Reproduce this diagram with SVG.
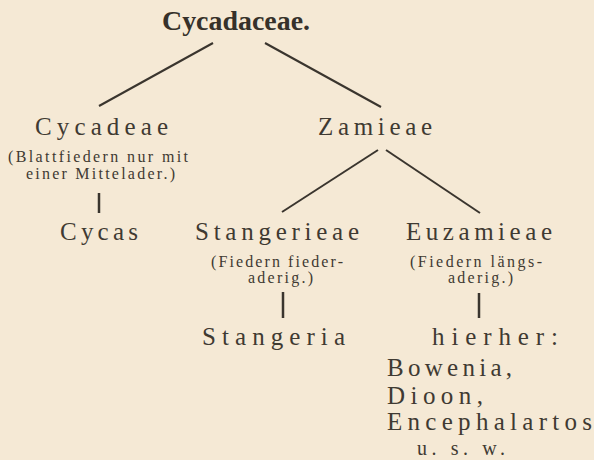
<svg xmlns="http://www.w3.org/2000/svg" width="594" height="460" viewBox="0 0 594 460">
<style>
.bg{fill:#f5e9d5}
.t{font-family:"Liberation Serif","Times New Roman",serif;fill:#3f3a32}
.title{font-size:27px;font-weight:bold;fill:#36312a}
.big{font-size:25px}
.small{font-size:16px}
.c line{stroke:#3a352e;stroke-width:2;stroke-linecap:butt}
</style>
<rect class="bg" x="0" y="0" width="594" height="460"/>
<g id="connectors" class="c">
<line x1="213" y1="43" x2="99" y2="106"/>
<line x1="265" y1="43" x2="381" y2="107"/>
<line x1="99" y1="193" x2="99" y2="213" style="stroke-width:2.5"/>
<line x1="378" y1="150" x2="282" y2="212"/>
<line x1="386" y1="150" x2="480" y2="213"/>
<line x1="283" y1="292" x2="283" y2="318" style="stroke-width:2.5"/>
<line x1="479" y1="293" x2="479" y2="318" style="stroke-width:2.5"/>
</g>
<g id="cycadaceae">
<text class="t title" x="162" y="30" textLength="148" lengthAdjust="spacingAndGlyphs">Cycadaceae.</text>
</g>
<g id="cycadeae">
<text class="t big" x="35" y="135" textLength="133" lengthAdjust="spacing">Cycadeae</text>
<text class="t small" x="8" y="162" textLength="180" lengthAdjust="spacing">(Blattfiedern nur mit</text>
<text class="t small" x="26" y="179" textLength="149" lengthAdjust="spacing">einer Mittelader.)</text>
</g>
<g id="zamieae">
<text class="t big" x="318" y="135" textLength="114" lengthAdjust="spacing">Zamieae</text>
</g>
<g id="cycas">
<text class="t big" x="60" y="240" textLength="78" lengthAdjust="spacing">Cycas</text>
</g>
<g id="stangerieae">
<text class="t big" x="195" y="240" textLength="164" lengthAdjust="spacing">Stangerieae</text>
<text class="t small" x="211" y="267" textLength="132" lengthAdjust="spacing">(Fiedern fieder-</text>
<text class="t small" x="248" y="283" textLength="65" lengthAdjust="spacing">aderig.)</text>
</g>
<g id="euzamieae">
<text class="t big" x="406" y="240" textLength="146" lengthAdjust="spacing">Euzamieae</text>
<text class="t small" x="410" y="267" textLength="132" lengthAdjust="spacing">(Fiedern längs-</text>
<text class="t small" x="448" y="283" textLength="65" lengthAdjust="spacing">aderig.)</text>
</g>
<g id="stangeria">
<text class="t big" x="202" y="345" textLength="143" lengthAdjust="spacing">Stangeria</text>
</g>
<g id="hierher">
<text class="t big" x="432" y="345" textLength="126" lengthAdjust="spacing">hierher:</text>
<text class="t big" x="387" y="376" textLength="125" lengthAdjust="spacing">Bowenia,</text>
<text class="t big" x="387" y="404" textLength="96" lengthAdjust="spacing">Dioon,</text>
<text class="t big" x="387" y="430" textLength="205" lengthAdjust="spacing">Encephalartos</text>
<text class="t big" x="417" y="455" style="font-size:20px" textLength="88" lengthAdjust="spacing">u. s. w.</text>
</g>
</svg>
